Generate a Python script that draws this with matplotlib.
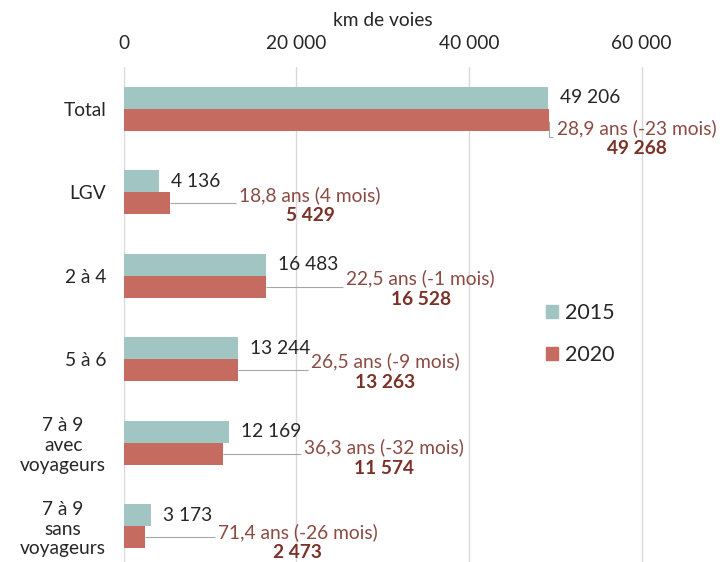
import numpy as np
import matplotlib.pyplot as plt
from matplotlib.patches import Patch

plt.rcParams['font.family'] = ['Lato', 'DejaVu Sans']

# ---- donnees ----
categories = ["Total", "LGV", "2 à 4", "5 à 6", "7 à 9\navec\nvoyageurs", "7 à 9\nsans\nvoyageurs"]
km_2015 = [49206, 4136, 16483, 13244, 12169, 3173]
km_2020 = [49268, 5429, 16528, 13263, 11574, 2473]
age_2020 = [28.9, 18.8, 22.5, 26.5, 36.3, 71.4]       # age moyen (ans)
delta_mois = [-23, 4, -1, -9, -32, -26]               # evolution (mois)
xticks = [0, 20000, 40000, 60000]

# ---- placement des etiquettes 2020 (a la main, comme l'original) ----
lab_x = [50200, 13400, 25800, 21700, 20900, 10900]
lab_dy = [0.23, 0.03, 0.03, 0.03, 0.06, 0.07]

TEAL = '#A0C5C3'
RED = '#C66B60'
TXT = '#262626'
AGE_C = '#8B4A42'
BOLD_C = '#7A3127'
GRID = '#D9D9D9'
FS = 13.8

def fmt(v):
    return f"{v:,}".replace(",", " ")

W, H = 724, 562
fig = plt.figure(figsize=(W / 100, H / 100), dpi=100)
ax = fig.add_axes([123.5 / W, 0, 600.5 / W, 495 / H])

px = 20000 / 172.7          # valeur par pixel
y = np.arange(len(categories))
bh = 0.265

ax.barh(y - bh / 2, km_2015, height=bh, color=TEAL)
ax.barh(y + bh / 2, km_2020, height=bh, color=RED)

ax.set_xlim(0, 600.5 * px)
ax.set_ylim(5.43, -0.5)

ax.xaxis.tick_top()
ax.set_xticks(xticks, [fmt(v) for v in xticks])
ax.set_yticks(y, categories)
ax.tick_params(axis='x', length=0, pad=10.5, labelsize=FS, labelcolor=TXT)
ax.tick_params(axis='y', length=0, pad=12.5, labelsize=FS, labelcolor=TXT)
for lbl in ax.get_yticklabels():
    lbl.set_multialignment('center')
    lbl.set_linespacing(1.2)

for s in ax.spines.values():
    s.set_visible(False)
ax.grid(axis='x', color=GRID, lw=1)
ax.set_axisbelow(True)

ax.text(30000, (H - 20) / 495, "km de voies", transform=ax.get_xaxis_transform(),
        ha='center', va='center', fontsize=FS, color=TXT)

# valeurs 2015
for yi, v in zip(y, km_2015):
    ax.annotate(fmt(v), xy=(v, yi - bh / 2), xytext=(8.6, 0), textcoords='offset points',
                ha='left', va='center', fontsize=FS, color=TXT)

# etiquettes 2020 : age + valeur en gras
age_txt = []
for yi, a, d, lx, dy in zip(y, age_2020, delta_mois, lab_x, lab_dy):
    s = f"{a:.1f}".replace('.', ',') + f" ans ({d} mois)"
    t = ax.text(lx, yi + dy, s, ha='left', va='center', fontsize=FS, color=AGE_C)
    age_txt.append(t)

fig.canvas.draw()
inv = ax.transData.inverted()
for yi, v, lx, dy, t in zip(y, km_2020, lab_x, lab_dy, age_txt):
    bb = t.get_window_extent()
    cx = inv.transform(((bb.x0 + bb.x1) / 2, bb.y0))[0]
    ax.annotate(fmt(v), xy=(cx, yi + dy), xytext=(0, -15.1), textcoords='offset points',
                ha='center', va='center', fontsize=FS, fontweight='bold', color=BOLD_C)
    # trait de rappel
    if (lx - v) / px < 15:
        xs = [v, v, v + 4 * px]
        ys = [yi + dy - 0.084, yi + dy + 0.108, yi + dy + 0.108]
    else:
        xs = [v, lx - 3 * px]
        ys = [yi + bh / 2, yi + bh / 2]
    ax.plot(xs, ys, color='#A6A6A6', lw=0.8, solid_capstyle='butt')

ax.legend(handles=[Patch(color=TEAL), Patch(color=RED)], labels=['2015', '2020'],
          loc='center left', bbox_to_anchor=(546 / W, 1 - 334 / H), bbox_transform=fig.transFigure,
          frameon=False, fontsize=15.5, handlelength=0.56, handleheight=0.56,
          handletextpad=0.3, labelspacing=1.0, borderpad=0, borderaxespad=0,
          labelcolor=TXT)

fig.savefig('out.png', dpi=100)
